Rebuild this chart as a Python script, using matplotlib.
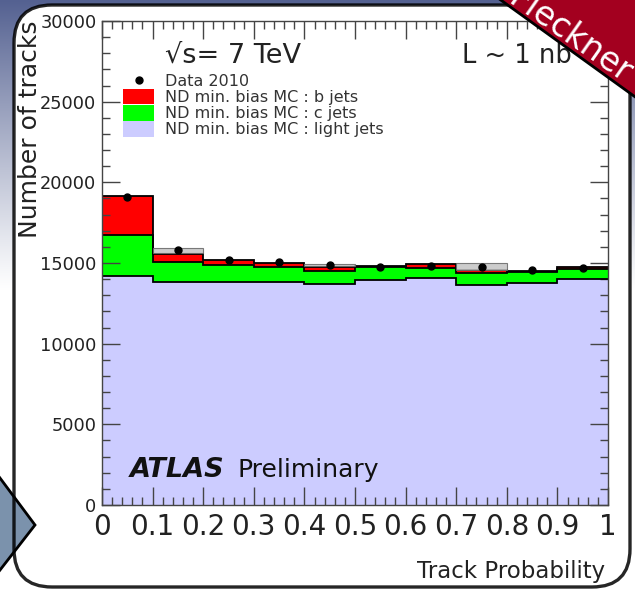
import numpy as np
import matplotlib
matplotlib.use("Agg")
import matplotlib.pyplot as plt
from matplotlib.patches import FancyBboxPatch, Polygon, Patch
from matplotlib.lines import Line2D
from matplotlib.ticker import MultipleLocator, FixedLocator, FixedFormatter

# ---------------- data ----------------
bin_edges = [0.0, 0.1, 0.2, 0.3, 0.4, 0.5, 0.6, 0.7, 0.8, 0.9, 1.0]
light_jets = [14180, 13850, 13850, 13850, 13690, 13960, 14060, 13650, 13790, 14000]
c_jets = [2570, 1210, 1050, 890, 830, 780, 620, 720, 640, 620]
b_jets = [2430, 490, 300, 250, 220, 90, 270, 170, 70, 140]
data_2010 = [19060, 15780, 15180, 15070, 14850, 14780, 14830, 14780, 14540, 14680]
data_unc = [0, 145, 0, 0, 60, 0, 0, 205, 0, 0]
x_tick_values = [0.0, 0.1, 0.2, 0.3, 0.4, 0.5, 0.6, 0.7, 0.8, 0.9, 1.0]
x_tick_labels = ["0", "0.1", "0.2", "0.3", "0.4", "0.5", "0.6", "0.7", "0.8", "0.9", "1"]
y_tick_values = [0, 5000, 10000, 15000, 20000, 25000, 30000]
legend_labels = ["Data 2010", "ND min. bias MC : b jets",
                 "ND min. bias MC : c jets", "ND min. bias MC : light jets"]

W, H = 635, 591
fig = plt.figure(figsize=(W / 100, H / 100), dpi=100)

# ---------------- slide background ----------------
bg = fig.add_axes([0, 0, 1, 1], zorder=-5)
bg.set_xlim(0, W)
bg.set_ylim(H, 0)
bg.axis("off")
yy = np.arange(H)[:, None] * np.ones((1, W))
t = np.clip(1 - yy / 290.0, 0, 1) ** 1.1
top = np.array([84, 97, 145]) / 255.0
img = (1 - t)[..., None] * np.ones(3) + t[..., None] * top
bg.imshow(img, extent=(0, W, H, 0), aspect="auto", zorder=0)

panel_fill = FancyBboxPatch((14, 5), 616, 582, boxstyle="round,pad=0,rounding_size=38",
                            fc="white", ec="none", zorder=1)
bg.add_patch(panel_fill)
arrow = Polygon([(-10, 464.6), (35, 525), (-10, 582.9)], closed=True,
                fc="#7b92ac", ec="black", lw=2.0, zorder=2)
bg.add_patch(arrow)
panel_edge = FancyBboxPatch((14, 5), 616, 582, boxstyle="round,pad=0,rounding_size=38",
                            fill=False, ec="black", lw=2.4, alpha=0.85, zorder=3)
bg.add_patch(panel_edge)

# ---------------- main plot ----------------
ax = fig.add_axes([102 / W, 1 - 505 / H, 506 / W, 484 / H], zorder=1)
edges = np.array(bin_edges)
centers = 0.5 * (edges[:-1] + edges[1:])
lt = np.array(light_jets, dtype=float)
ct = lt + np.array(c_jets)
bt = ct + np.array(b_jets)

ax.stairs(lt, edges, baseline=0, fill=True, color="#ccccff", lw=0, zorder=1)
ax.stairs(ct, edges, baseline=lt, fill=True, color="#00ff00", lw=0, zorder=1)
ax.stairs(bt, edges, baseline=ct, fill=True, color="#ff0000", lw=0, zorder=1)
for arr in (lt, ct, bt):
    ax.stairs(arr, edges, baseline=None, color="black", lw=1.3, zorder=2)

d = np.array(data_2010, dtype=float)
u = np.array(data_unc, dtype=float)
m = u > 0
ax.bar(centers[m], 2 * u[m], bottom=d[m] - u[m], width=0.1, color="#c4c4c4",
       edgecolor="#666666", lw=0.8, alpha=0.85, zorder=3)
ax.plot(centers, d, "o", color="black", ms=5, zorder=4)

ax.set_xlim(0, 1)
ax.set_ylim(0, 30000)
ax.xaxis.set_major_locator(FixedLocator(x_tick_values))
ax.xaxis.set_major_formatter(FixedFormatter(x_tick_labels))
ax.xaxis.set_minor_locator(MultipleLocator(0.02))
ax.yaxis.set_major_locator(FixedLocator(y_tick_values))
ax.yaxis.set_minor_locator(MultipleLocator(1000))
ax.tick_params(which="both", direction="in", top=True, right=True, color="#444444", width=1)
ax.tick_params(which="major", length=13)
ax.tick_params(which="minor", length=6)
ax.tick_params(axis="y", labelsize=12.8, labelcolor="#222222", pad=4)
ax.tick_params(axis="x", labelsize=20, labelcolor="#222222", pad=6)
for s in ax.spines.values():
    s.set_color("#444444")
    s.set_linewidth(1)

handles = [Line2D([], [], marker="o", ls="none", color="black", ms=5),
           Patch(fc="#ff0000", ec="none"),
           Patch(fc="#00ff00", ec="none"),
           Patch(fc="#ccccff", ec="none")]
ax.legend(handles, legend_labels, loc="upper left", bbox_to_anchor=(123 / W, 1 - 73 / H),
          bbox_transform=fig.transFigure, frameon=False, fontsize=11.5,
          handlelength=1.95, handleheight=1.1, handletextpad=0.7, labelspacing=0.0,
          borderpad=0, borderaxespad=0, labelcolor="#333333")

# ---------------- overlay texts / ribbon ----------------
ov = fig.add_axes([0, 0, 1, 1], zorder=10)
ov.set_xlim(0, W)
ov.set_ylim(H, 0)
ov.axis("off")
ov.patch.set_alpha(0)

ov.text(165, 63, "√s= 7 TeV", fontsize=19.5, ha="left", va="baseline", color="#222222")
ov.text(462, 63, "L ~ 1 nb", fontsize=18.5, ha="left", va="baseline", color="#222222")
ov.text(130, 477, "ATLAS", fontsize=19.5, weight="bold", style="italic", ha="left",
        va="baseline", color="#111111")
ov.text(238, 477, "Preliminary", fontsize=18, ha="left", va="baseline", color="#111111")
ov.text(605, 578, "Track Probability", fontsize=16.5, ha="right", va="baseline", color="#222222")
ov.text(30, 20, "Number of tracks", fontsize=18, rotation=90, ha="center", va="top",
        color="#222222")

ribbon = Polygon([(498, -2), (645, 104), (645, -10), (498, -10)], closed=True,
                 fc="#a3001f", ec="black", lw=2.0, zorder=5)
ov.add_patch(ribbon)
ov.text(570, 36, "Fleckner", fontsize=24, rotation=-35, rotation_mode="anchor",
        ha="center", va="center", color="white", zorder=6)

fig.savefig("out.png", dpi=100)
